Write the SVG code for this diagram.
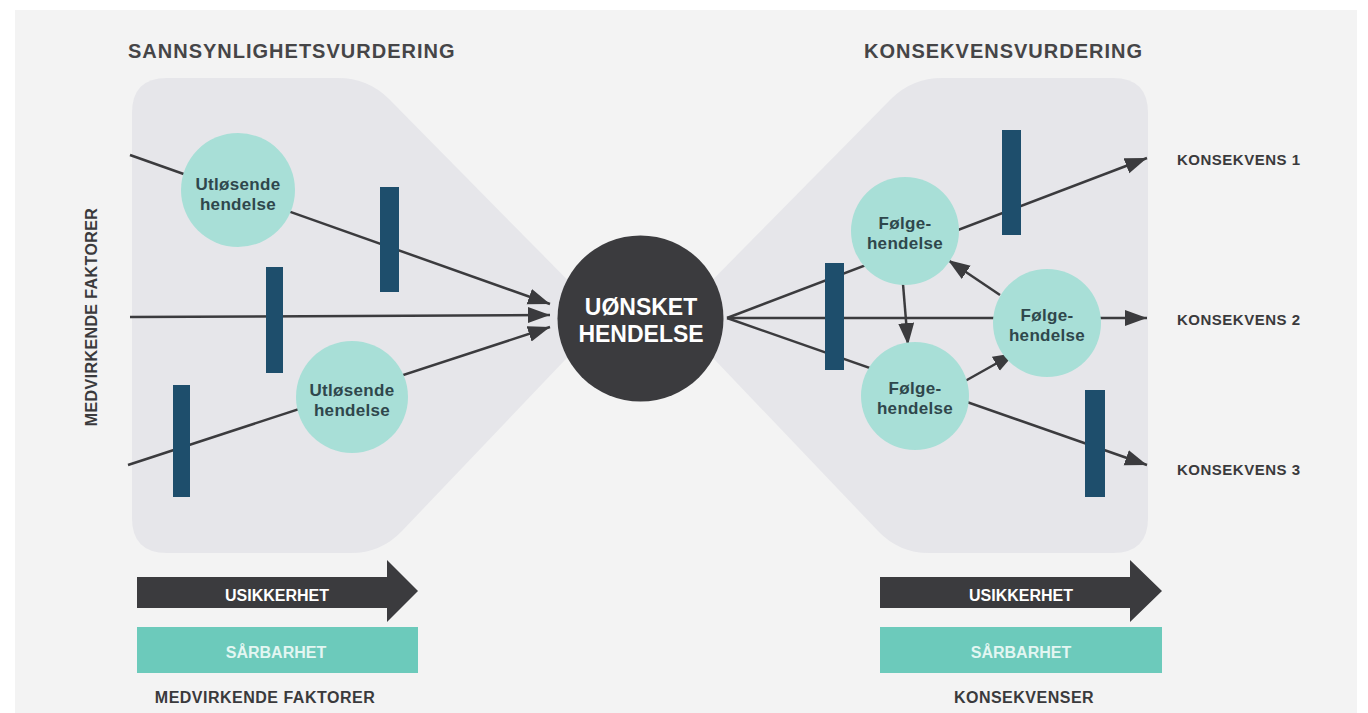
<svg xmlns="http://www.w3.org/2000/svg" width="1368" height="713" viewBox="0 0 1368 713">
  <defs>
    <style>
      .t{font-family:"Liberation Sans",Arial,sans-serif;font-weight:bold}
      .title{font-size:20px;fill:#454547;letter-spacing:1px}
      .lab{font-size:15px;fill:#3a3a3c;letter-spacing:0.5px}
      .ev{font-size:17px;fill:#2f474c;letter-spacing:0.3px;text-anchor:middle}
      .evc{fill:#a8dfd7}
      .bar{fill:#1e4e6c}
      .ln{stroke:#3b3b3e;stroke-width:2.5;fill:none}
      .arr{marker-end:url(#ah)}
      .shade{fill:#e6e6ea}
    </style>
    <marker id="ah" markerUnits="userSpaceOnUse" markerWidth="24" markerHeight="18" refX="22" refY="8" orient="auto" viewBox="0 0 24 18">
      <path d="M0,0 L22,8 L0,16 Z" fill="#3b3b3e"/>
    </marker>
  </defs>

  <rect x="0" y="0" width="1368" height="713" fill="#ffffff"/>
  <rect x="15" y="10" width="1342" height="703" fill="#f3f3f3"/>

  <g id="shade-left"><path class="shade" d="M132,113 Q132,78 167,78 L338,78 Q368,78 389,99 L605,318 L402,531 Q381,553 351,553 L167,553 Q132,553 132,518 Z"/></g>
  <g id="shade-right"><path class="shade" d="M1148,113 Q1148,78 1113,78 L942,78 Q912,78 891,99 L675,318 L878,531 Q899,553 929,553 L1113,553 Q1148,553 1148,518 Z"/></g>

  <g id="titles">
    <text class="t title" x="128" y="58">SANNSYNLIGHETSVURDERING</text>
    <text class="t title" x="864" y="58">KONSEKVENSVURDERING</text>
    <text class="t" x="0" y="0" font-size="16" fill="#3a3a3c" letter-spacing="0.4" text-anchor="middle" transform="translate(97,317) rotate(-90)">MEDVIRKENDE FAKTORER</text>
  </g>

  <g id="connectors">
    <line class="ln arr" x1="130" y1="155" x2="550" y2="304"/>
    <line class="ln arr" x1="130" y1="317" x2="550" y2="315"/>
    <line class="ln arr" x1="128" y1="465" x2="550" y2="327"/>
    <line class="ln arr" x1="727" y1="318" x2="1147" y2="158"/>
    <line class="ln arr" x1="727" y1="318" x2="1147" y2="318"/>
    <line class="ln arr" x1="727" y1="318" x2="1147" y2="465"/>
    <line class="ln arr" x1="903" y1="284" x2="908" y2="345"/>
    <line class="ln arr" x1="1000" y1="295" x2="948" y2="260"/>
    <line class="ln arr" x1="958" y1="385" x2="1015" y2="353"/>
  </g>

  <g id="bars">
    <rect class="bar" x="380" y="187" width="19" height="105"/>
    <rect class="bar" x="266" y="267" width="17" height="106"/>
    <rect class="bar" x="173" y="385" width="17" height="112"/>
    <rect class="bar" x="1002" y="130" width="19" height="105"/>
    <rect class="bar" x="825" y="263" width="19" height="107"/>
    <rect class="bar" x="1085" y="390" width="20" height="107"/>
  </g>

  <g id="utlosende-1">
    <circle class="evc" cx="238" cy="190" r="57"/>
    <text class="t ev" x="238" y="190">Utløsende</text>
    <text class="t ev" x="238" y="210">hendelse</text>
  </g>
  <g id="utlosende-2">
    <circle class="evc" cx="352" cy="397" r="56"/>
    <text class="t ev" x="352" y="396">Utløsende</text>
    <text class="t ev" x="352" y="416">hendelse</text>
  </g>

  <g id="uonsket">
    <circle cx="640.5" cy="318.5" r="83" fill="#3b3b3e"/>
    <text class="t" x="641" y="315" font-size="23" fill="#ffffff" text-anchor="middle">UØNSKET</text>
    <text class="t" x="641" y="342" font-size="23" fill="#ffffff" text-anchor="middle">HENDELSE</text>
  </g>

  <g id="folge-a">
    <circle class="evc" cx="905" cy="231" r="54"/>
    <text class="t ev" x="905" y="229">Følge-</text>
    <text class="t ev" x="905" y="249">hendelse</text>
  </g>
  <g id="folge-b">
    <circle class="evc" cx="1047" cy="323" r="54"/>
    <text class="t ev" x="1047" y="321">Følge-</text>
    <text class="t ev" x="1047" y="341">hendelse</text>
  </g>
  <g id="folge-c">
    <circle class="evc" cx="915" cy="396" r="54"/>
    <text class="t ev" x="915" y="394">Følge-</text>
    <text class="t ev" x="915" y="414">hendelse</text>
  </g>

  <g id="konsekvenser">
    <text class="t lab" x="1177" y="165">KONSEKVENS 1</text>
    <text class="t lab" x="1177" y="325">KONSEKVENS 2</text>
    <text class="t lab" x="1177" y="475">KONSEKVENS 3</text>
  </g>

  <g id="usikkerhet-left">
    <polygon points="137,577 387,577 387,560 418,591 387,622 387,608 137,608" fill="#3b3b3e"/>
    <text class="t" x="277" y="601" font-size="16" fill="#ffffff" text-anchor="middle">USIKKERHET</text>
  </g>
  <g id="sarbarhet-left">
    <rect x="137" y="627" width="281" height="46" fill="#6ccabb"/>
    <text class="t" x="276" y="658" font-size="16" fill="#e3f6f2" text-anchor="middle">SÅRBARHET</text>
  </g>
  <text class="t" x="265" y="703" font-size="16" fill="#3a3a3c" letter-spacing="0.5" text-anchor="middle">MEDVIRKENDE FAKTORER</text>

  <g id="usikkerhet-right">
    <polygon points="880,577 1130,577 1130,560 1162,591 1130,622 1130,608 880,608" fill="#3b3b3e"/>
    <text class="t" x="1021" y="601" font-size="16" fill="#ffffff" text-anchor="middle">USIKKERHET</text>
  </g>
  <g id="sarbarhet-right">
    <rect x="880" y="627" width="282" height="46" fill="#6ccabb"/>
    <text class="t" x="1021" y="658" font-size="16" fill="#e3f6f2" text-anchor="middle">SÅRBARHET</text>
  </g>
  <text class="t" x="1024" y="703" font-size="16" fill="#3a3a3c" letter-spacing="0.5" text-anchor="middle">KONSEKVENSER</text>
</svg>
